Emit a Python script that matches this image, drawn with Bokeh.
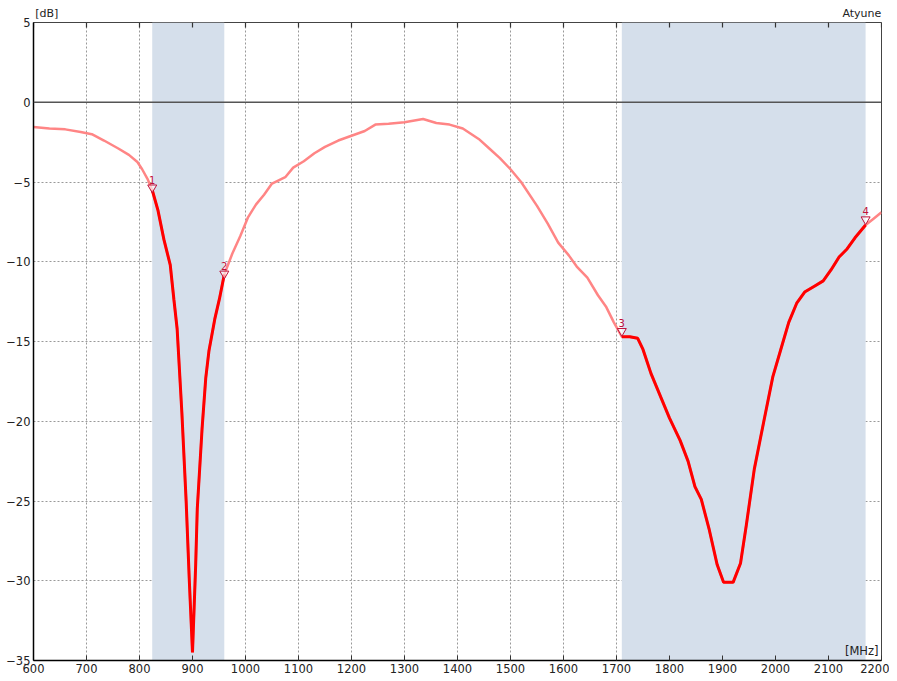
import math
from bokeh.plotting import figure
from bokeh.models import (Range1d, FixedTicker, Span, Label, BoxAnnotation, ColumnDataSource,
                          LinearAxis)
from bokeh.embed import file_html
from bokeh.resources import INLINE

# Frequency response (MHz, dB)
freq = [600, 630, 660, 689, 710, 733, 760, 780, 796, 805, 815, 824, 835, 846, 858, 865, 871,
        880, 888, 894, 900, 906, 909, 918, 925, 931, 942, 951, 960, 975, 990, 1005, 1020,
        1035, 1050, 1075, 1090, 1110, 1130, 1150, 1175, 1200, 1225, 1245, 1270, 1300, 1335,
        1360, 1385, 1410, 1440, 1460, 1480, 1500, 1520, 1550, 1570, 1590, 1610, 1625, 1645,
        1665, 1680, 1695, 1710, 1725, 1740, 1750, 1765, 1790, 1800, 1820, 1835, 1848, 1860,
        1875, 1890, 1902, 1920, 1934, 1945, 1960, 1978, 1995, 2010, 2025, 2040, 2055, 2075,
        2090, 2105, 2120, 2135, 2150, 2170, 2185, 2200]
gain = [-1.55, -1.65, -1.7, -1.86, -2.0, -2.4, -2.9, -3.3, -3.75, -4.2, -4.8, -5.5, -6.8, -8.6,
        -10.2, -12.4, -14.2, -19.5, -25.0, -30.0, -34.5, -29.0, -25.5, -20.5, -17.3, -15.6,
        -13.6, -12.3, -10.8, -9.5, -8.4, -7.2, -6.4, -5.8, -5.1, -4.7, -4.1, -3.7, -3.2, -2.8,
        -2.4, -2.1, -1.8, -1.4, -1.35, -1.25, -1.05, -1.3, -1.4, -1.65, -2.3, -2.9, -3.5, -4.2,
        -5.0, -6.5, -7.6, -8.8, -9.6, -10.3, -11.0, -12.1, -12.8, -13.8, -14.7, -14.7, -14.8,
        -15.5, -17.0, -19.0, -19.8, -21.2, -22.5, -24.1, -24.9, -26.8, -29.0, -30.1, -30.1,
        -28.9, -26.5, -23.0, -20.0, -17.2, -15.5, -13.8, -12.6, -11.9, -11.5, -11.2, -10.5,
        -9.7, -9.2, -8.5, -7.7, -7.3, -6.9]

# Frequency bands (MHz)
band_lo = [824, 1710]
band_hi = [960, 2170]

# Markers
marker_freq = [824, 960, 1710, 2170]
marker_gain = [-5.6, -11.0, -14.6, -7.6]
marker_name = ["1", "2", "3", "4"]

x_ticks = [600, 700, 800, 900, 1000, 1100, 1200, 1300, 1400, 1500, 1600, 1700, 1800, 1900,
           2000, 2100, 2200]
y_ticks = [5, 0, -5, -10, -15, -20, -25, -30, -35]
y_min, y_max = -35, 5

FONT = "DejaVu Sans"

p = figure(width=889, height=675, output_backend="svg", toolbar_location=None,
           x_range=Range1d(600, 2200), y_range=Range1d(y_min, y_max),
           min_border_left=33, min_border_right=8, min_border_top=22, min_border_bottom=15)
p.background_fill_color = "white"
p.border_fill_color = "white"
p.outline_line_color = "#444444"
p.outline_line_width = 1

# bands
for lo, hi in zip(band_lo, band_hi):
    p.add_layout(BoxAnnotation(left=lo, right=hi, fill_color="#d5dfeb", fill_alpha=1.0,
                               line_color=None, level="underlay"))

# grid
for g in (p.xgrid, p.ygrid):
    g.grid_line_color = "#999999"
    g.grid_line_dash = "2 2"
    g.grid_line_width = 1
p.xgrid.ticker = FixedTicker(ticks=x_ticks)
p.ygrid.ticker = FixedTicker(ticks=y_ticks)

# axes
p.xaxis.ticker = FixedTicker(ticks=x_ticks)
p.yaxis.ticker = FixedTicker(ticks=y_ticks)
for ax in (p.xaxis[0], p.yaxis[0]):
    ax.axis_line_color = "black"
    ax.axis_line_width = 1.5
    ax.major_tick_line_color = "#333333"
    ax.minor_tick_line_color = None
    ax.major_label_text_font = FONT
    ax.major_label_text_font_size = "11.5px"
    ax.major_label_text_color = "#222222"
    ax.major_label_standoff = 3
p.xaxis.major_tick_in = 5
p.xaxis.major_tick_out = 0
p.yaxis.major_tick_in = 0
p.yaxis.major_tick_out = 0

# corner captions above the frame ("[dB]" at left, "Atyune" at right)
top = LinearAxis(ticker=FixedTicker(ticks=[625, 2163]),
                 major_label_overrides={625: "[dB]", 2163: "Atyune"},
                 axis_line_color=None, major_tick_line_color=None,
                 minor_tick_line_color=None, major_tick_in=0, major_tick_out=0,
                 major_label_standoff=3, major_label_text_font=FONT,
                 major_label_text_font_size="11px", major_label_text_color="#222222")
p.add_layout(top, "above")

# top tick marks (inside the frame)
p.scatter(x_ticks, [y_max] * len(x_ticks), marker="dash", size=10, angle=math.pi / 2,
          line_color="#333333", line_width=1.2)

# zero line
p.add_layout(Span(location=0, dimension="width", line_color="#555555", line_width=1.5))

# curves
p.line(freq, gain, line_color="#ff8585", line_width=2.5)
for lo, hi in zip(band_lo, band_hi):
    fx = [f for f in freq if lo <= f <= hi]
    gy = [g for f, g in zip(freq, gain) if lo <= f <= hi]
    p.line(fx, gy, line_color="#ff0000", line_width=3)

# markers
tri_src = ColumnDataSource(dict(x=marker_freq, y=[g + 0.25 for g in marker_gain], t=marker_name))
p.scatter("x", "y", source=tri_src, marker="inverted_triangle", size=9,
          fill_color="white", fill_alpha=0.6, line_color="#c0103a", line_width=1)
p.text("x", "y", text="t", source=tri_src, text_color="#c0103a", text_font_size="10px",
       text_align="center", text_baseline="bottom", y_offset=-4,
       text_font={"value": FONT})

p.add_layout(Label(x=2200, y=y_min, text="[MHz]", x_offset=-3, y_offset=3, text_align="right",
                   text_baseline="bottom", text_font=FONT, text_font_size="11.5px",
                   text_color="#222222"))

open("out.html", "w").write(file_html(p, INLINE))
